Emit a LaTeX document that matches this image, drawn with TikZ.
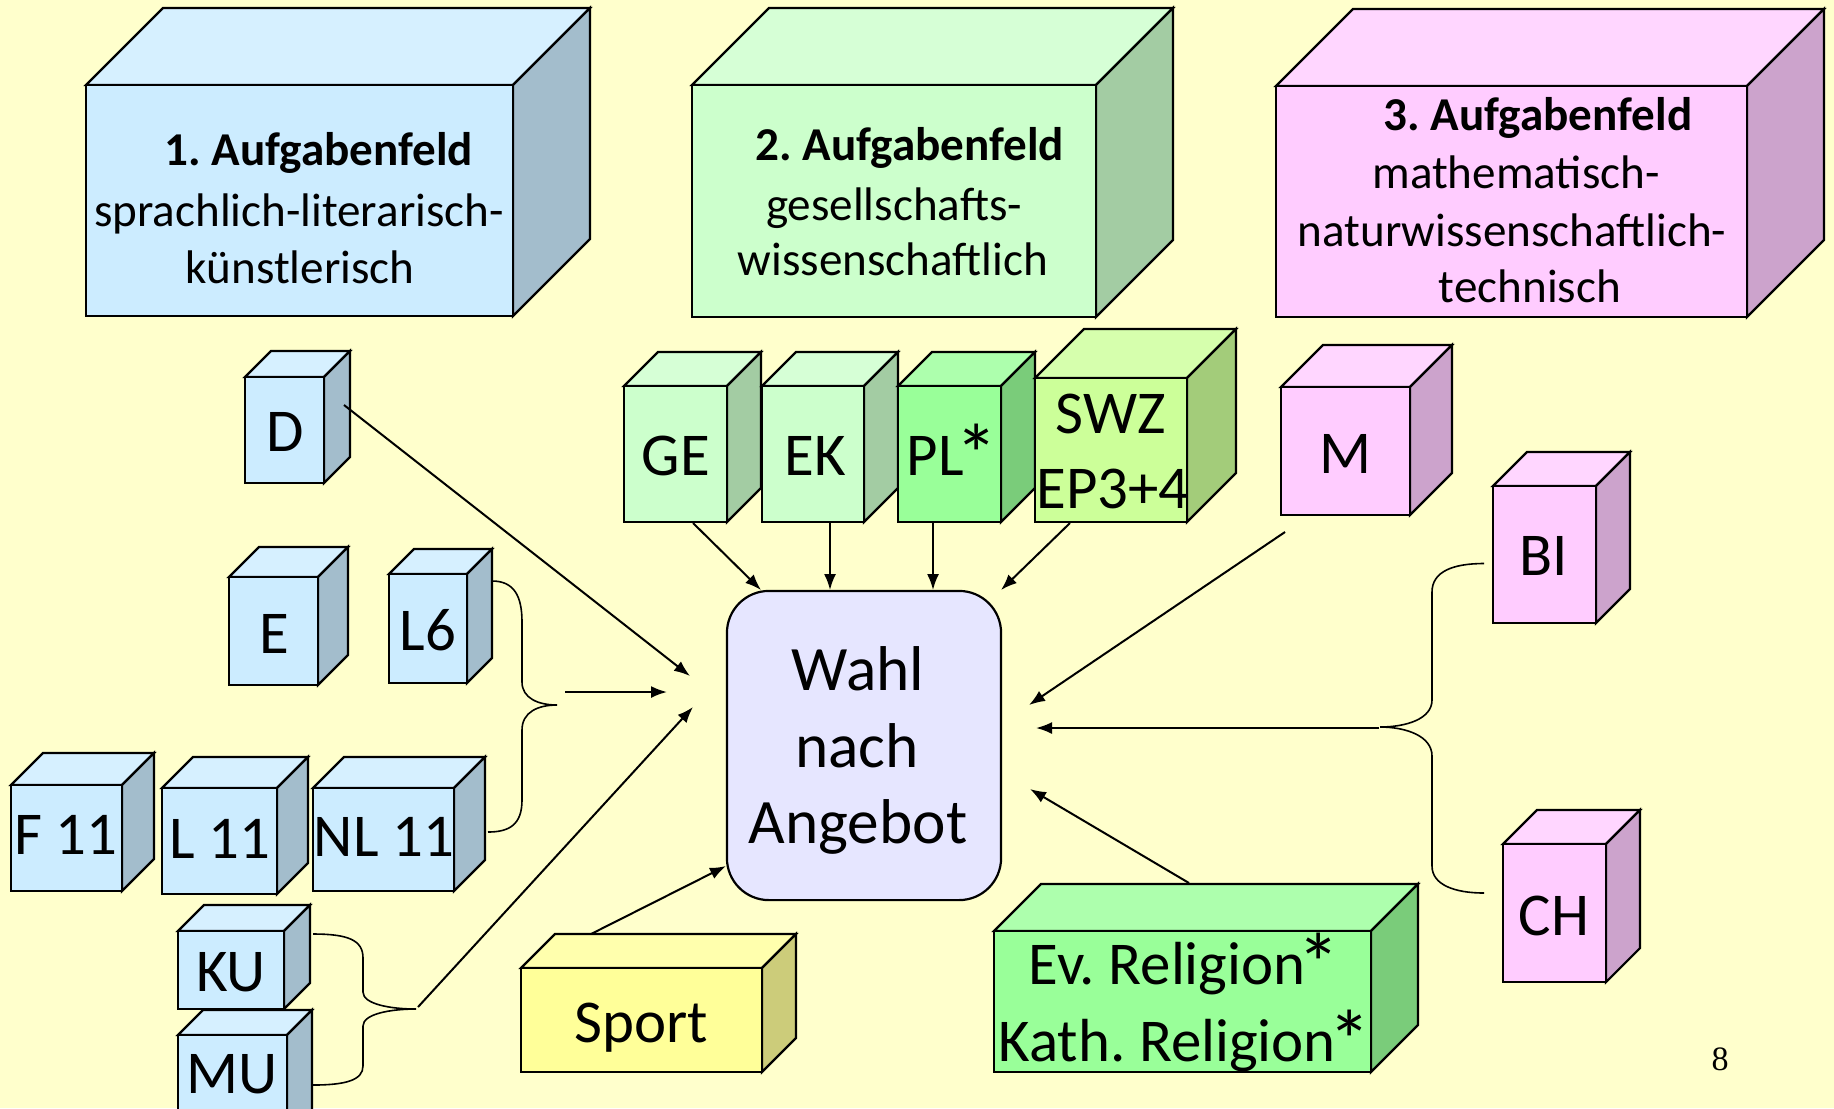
\documentclass[tikz,border=0pt]{standalone}
\usepackage{fontspec}
\setmainfont{Carlito}
\newfontfamily\timesf{Liberation Serif}
\usetikzlibrary{arrows.meta}
\frenchspacing
\newcommand\bigast{\kern-0.13em\raisebox{-0.16em}{\scalebox{1.4}{*}}\kern-0.08em}
\definecolor{bg}{HTML}{FFFFCC}
\definecolor{blueF}{HTML}{CCECFF}\definecolor{blueT}{HTML}{D6F0FF}\definecolor{blueS}{HTML}{A3BDCC}
\definecolor{grnF}{HTML}{CCFFCC}\definecolor{grnT}{HTML}{D6FFD6}\definecolor{grnS}{HTML}{A3CCA3}
\definecolor{plF}{HTML}{99FF99}\definecolor{plT}{HTML}{ADFFAD}\definecolor{plS}{HTML}{7ACC7A}
\definecolor{swzF}{HTML}{CCFF99}\definecolor{swzT}{HTML}{D6FFAD}\definecolor{swzS}{HTML}{A3CC7A}
\definecolor{pnkF}{HTML}{FFCCFF}\definecolor{pnkT}{HTML}{FFD6FF}\definecolor{pnkS}{HTML}{CCA3CC}
\definecolor{ylwF}{HTML}{FFFF99}\definecolor{ylwT}{HTML}{FFFFAD}\definecolor{ylwS}{HTML}{CCCC7A}
\definecolor{wahlF}{HTML}{E6E6FF}
\newcommand\cubebox[6]{%
  \filldraw[cubeline, fill=#6T] (#1,#2) -- ++(#5,-#5) -- ++(#3,0) -- ++(-#5,#5) -- cycle;
  \filldraw[cubeline, fill=#6S] (#1+#3,#2) -- ++(#5,-#5) -- ++(0,#4) -- ++(-#5,#5) -- cycle;
  \filldraw[cubeline, fill=#6F] (#1,#2) rectangle ++(#3,#4);
}
\tikzset{
  cubeline/.style={line width=0.022cm, draw=black, line join=miter},
  bigt/.style={font=\fontsize{13.4}{16}\selectfont, inner sep=0, anchor=base},
  bigb/.style={font=\fontsize{13.4}{16}\selectfont\bfseries, inner sep=0, anchor=base},
  lab/.style={font=\fontsize{17.3}{20}\selectfont, inner sep=0, anchor=base},
  wlab/.style={font=\fontsize{18}{21}\selectfont, inner sep=0, anchor=base},
  arr/.style={-{Latex[length=0.16cm,width=0.12cm]}, line width=0.02cm},
  brace/.style={line width=0.016cm},
}
\begin{document}
\begin{tikzpicture}[x=0.01cm,y=-0.01cm]
\useasboundingbox (0,0) rectangle (1834,1108);
\clip (0,0) rectangle (1834,1108);
\fill[bg] (0,0) rectangle (1834,1108);

% big boxes
\cubebox{86}{85}{427}{231}{77}{blue}
\cubebox{692}{85}{404}{232}{77}{grn}
\cubebox{1276}{86}{471}{231}{77}{pnk}
\node[bigb] (a1t) at (319,165) {1. Aufgabenfeld};
\node[bigt] (a1b) at (299,226) {sprachlich-literarisch-};
\node[bigt] (a1c) at (300,283) {künstlerisch};
\node[bigb] (a2t) at (910,160) {2. Aufgabenfeld};
\node[bigt] (a2b) at (894,220) {gesellschafts-};
\node[bigt] (a2c) at (893,275) {wissenschaftlich};
\node[bigb] (a3t) at (1538,130) {3. Aufgabenfeld};
\node[bigt] (a3b) at (1516,188) {mathematisch-};
\node[bigt] (a3c) at (1512,246) {naturwissenschaftlich-};
\node[bigt] (a3d) at (1530,302) {technisch};

% language cubes
\cubebox{245}{377}{79}{106}{26}{blue}
\node[lab] (d) at (285,451) {D};
\cubebox{229}{577}{89}{108}{30}{blue}
\node[lab] (e) at (274,653) {E};
\cubebox{389}{574}{78}{109}{25}{blue}
\node[lab] (l6) at (428,650) {L6};
\cubebox{11}{785}{111}{106}{32}{blue}
\node[lab] (f11) at (66,854) {F 11};
\cubebox{162}{788}{115}{106}{31}{blue}
\node[lab] (l11) at (220,858) {L 11};
\cubebox{313}{788}{141}{103}{31}{blue}
\node[lab] (nl11) at (384,856) {NL 11};
\cubebox{178}{931}{106}{78}{26}{blue}
\node[lab] (ku) at (231,991) {KU};
\cubebox{178}{1035}{109}{100}{25}{blue}
\node[lab] (mu) at (232,1093) {MU};

% social science cubes
\cubebox{624}{386}{103}{136}{34}{grn}
\node[lab] (ge) at (676,475) {GE};
\cubebox{762}{386}{102}{136}{34}{grn}
\node[lab] (ek) at (815,475) {EK};
\cubebox{898}{386}{103}{136}{34}{pl}
\node[lab] (pl) at (950,475) {PL\bigast};
\cubebox{1035}{378}{152}{144}{49}{swz}
\node[lab] (swz) at (1111,433) {SWZ};
\node[lab] (ep) at (1113,508) {EP3+4};

% science cubes
\cubebox{1281}{387}{129}{128}{42}{pnk}
\node[lab] (m) at (1345,473) {M};
\cubebox{1493}{486}{103}{137}{34}{pnk}
\node[lab] (bi) at (1544,575) {BI};
\cubebox{1503}{844}{103}{138}{34}{pnk}
\node[lab] (ch) at (1554,935) {CH};

% religion and sport
\cubebox{994}{931}{377}{141}{47}{pl}
\node[lab] (rel1) at (1182,984) {Ev. Religion\bigast};
\node[lab] (rel2) at (1182,1061) {Kath. Religion\bigast};
\cubebox{521}{968}{241}{104}{34}{ylw}
\node[lab] (sport) at (641,1042) {Sport};

% central box
\node[draw, fill=wahlF, line width=0.022cm, rounded corners=0.42cm, minimum width=2.74cm, minimum height=3.09cm, inner sep=0] (wahl) at (864,745.5) {};
\node[wlab] (w1) at (858,690) {Wahl};
\node[wlab] (w2) at (857,767) {nach};
\node[wlab] (w3) at (858,843) {Angebot};

% braces
\draw[brace] (492,581) .. controls (514,581) and (522,596) .. (522,622) -- (522,682) .. controls (522,698) and (538,705) .. (557,705) .. controls (538,705) and (522,712) .. (522,730) -- (522,800) .. controls (522,824) and (510,832) .. (488,832);
\draw[brace] (1484,563.5) .. controls (1452,563.5) and (1432,572) .. (1432,592) -- (1432,700) .. controls (1432,719) and (1406,727) .. (1380,727) .. controls (1406,727) and (1432,736) .. (1432,756) -- (1432,866) .. controls (1432,885) and (1455,893) .. (1484,893);
\draw[brace] (313,934) .. controls (348,934) and (363,940) .. (363,958) -- (363,992) .. controls (363,1004) and (390,1009) .. (416,1009) .. controls (390,1009) and (363,1014) .. (363,1026) -- (363,1066) .. controls (363,1080) and (346,1085) .. (313,1085);

% arrow ends
\coordinate (dS) at (344,405);   \coordinate (dE) at (690,676);
\coordinate (b1S) at (565,692);  \coordinate (b1E) at (667,692);
\coordinate (kmS) at (418,1007); \coordinate (kmE) at (693,707);
\coordinate (geS) at (693,523);  \coordinate (geE) at (761,590);
\coordinate (ekS) at (830,523);  \coordinate (ekE) at (830,590);
\coordinate (plS) at (933,523);  \coordinate (plE) at (933,590);
\coordinate (swS) at (1070,523); \coordinate (swE) at (1001,590);
\coordinate (mS) at (1285,532);  \coordinate (mE) at (1029,705);
\coordinate (bcS) at (1379,728); \coordinate (bcE) at (1036,728);
\coordinate (reS) at (1189,883); \coordinate (reE) at (1030,789);
\coordinate (spS) at (591,934);  \coordinate (spE) at (726,866);
\foreach \s/\e in {dS/dE,b1S/b1E,kmS/kmE,geS/geE,ekS/ekE,plS/plE,swS/swE,mS/mE,bcS/bcE,reS/reE,spS/spE}
  \draw[arr] (\s) -- (\e);

\node[font=\timesf\fontsize{9.7}{11}\selectfont, inner sep=0, anchor=base] (pg) at (1720,1070) {8};
\end{tikzpicture}
\end{document}
